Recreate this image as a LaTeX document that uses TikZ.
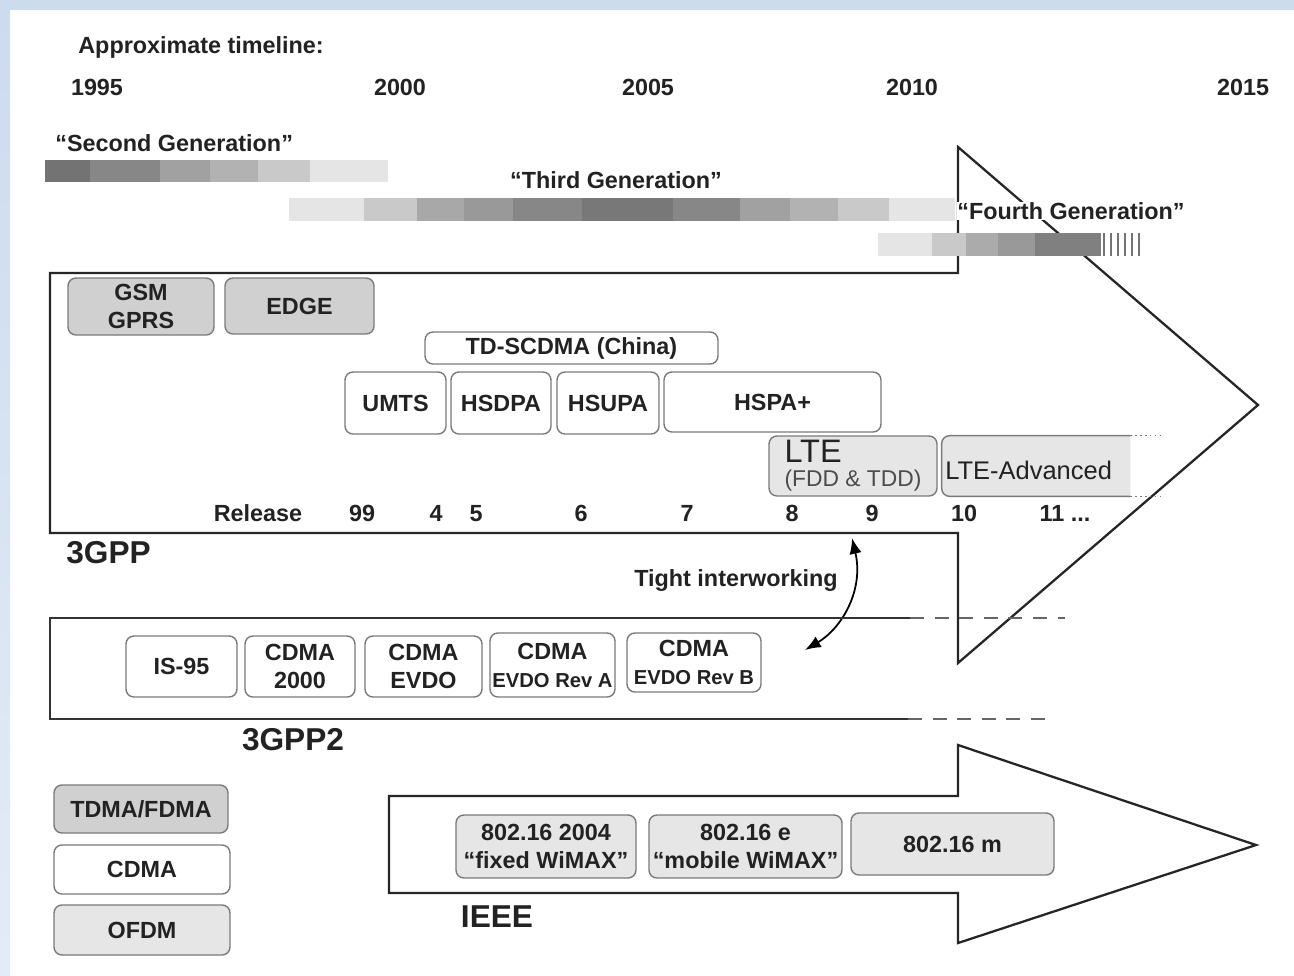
\documentclass[tikz,border=0pt]{standalone}
\usepackage{fontspec}
\setmainfont{Liberation Sans}
\usetikzlibrary{arrows.meta}

\definecolor{bgblue}{HTML}{CDDBEF}
\definecolor{boxline}{HTML}{7A7A7A}
\definecolor{darkfill}{HTML}{D0D0D0}
\definecolor{lightfill}{HTML}{E6E6E6}
\definecolor{txt}{HTML}{222222}

\newcommand{\subline}{\fontsize{11.5}{13}\selectfont}

\tikzset{
    tbox/.style={draw=boxline, line width=0.8pt, rounded corners=4.5pt,
                 align=center, inner sep=1pt, text=txt},
    boxsize/.style 2 args={minimum width=#1cm, minimum height=#2cm},
    lbl/.style={inner sep=0pt, text=txt},
    biglbl/.style={lbl, font=\bfseries\fontsize{18}{20}\selectfont},
    bigarrow/.style={draw=black!85, line width=1.3pt, fill=white, line join=miter},
}

\begin{document}
\begin{tikzpicture}[
        x=0.02cm, y=-0.02cm, >=latex,
        font=\bfseries\fontsize{13.3}{16}\selectfont,
    ]
    \useasboundingbox (0,0) rectangle (1294,975);
    \fill[white] (0,0) rectangle (1294,975);
    \fill[bgblue] (0,0) rectangle (1294,10);
    \shade[top color=bgblue, bottom color=bgblue!55] (0,0) rectangle (10,975);

    % timeline
    \node[lbl, anchor=west] (title) at (78,47) {Approximate timeline:};
    \node[lbl] (y1995) at (97,87) {1995};
    \node[lbl] (y2000) at (400,87) {2000};
    \node[lbl] (y2005) at (648,87) {2005};
    \node[lbl] (y2010) at (912,87) {2010};
    \node[lbl] (y2015) at (1243,87) {2015};

    % the two big arrows
    \draw[bigarrow] (50,273) -- (958,273) -- (958,147) -- (1258,405)
        -- (958,663) -- (958,533) -- (50,533) -- cycle;
    \draw[bigarrow] (389,796) -- (958,796) -- (958,745) -- (1256,845)
        -- (958,943) -- (958,893) -- (389,893) -- cycle;

    % generations
    \node[lbl, anchor=west] (gen2) at (55,143) {“Second Generation”};
    \foreach \a/\b/\g in {45/90/55, 90/160/47, 160/210/37, 210/258/30,
                          258/310/21, 310/388/10}
        \fill[black!\g] (\a,160) rectangle (\b,182);

    \node[lbl] (gen3) at (616,180) {“Third Generation”};
    \foreach \a/\b/\g in {289/364/10, 364/417/21, 417/464/34, 464/513/40,
                          513/582/47, 582/673/53, 673/740/47, 740/790/37,
                          790/838/30, 838/889/21, 889/955/10}
        \fill[black!\g] (\a,198) rectangle (\b,221);

    \node[lbl, anchor=west, fill=white] (gen4) at (957,211) {“Fourth Generation”};
    \foreach \a/\b/\g in {878/932/10, 932/966/21, 966/998/33, 998/1035/40,
                          1035/1101/50}
        \fill[black!\g] (\a,233) rectangle (\b,256);
    \foreach \s in {1104,1111,...,1141}
        \draw[black!55, line width=1.2pt] (\s,233) -- (\s,256);

    % 3GPP
    \node[tbox, fill=darkfill, boxsize={2.92}{1.14}] (gsm) at (141,306.5) {GSM\\GPRS};
    \node[tbox, fill=darkfill, boxsize={2.98}{1.12}] (edge) at (299.5,306) {EDGE};
    \node[tbox, boxsize={5.86}{0.64}] (tdscdma) at (571.5,348) {TD-SCDMA (China)};
    \node[tbox, boxsize={2.02}{1.24}] (umts) at (395.5,403) {UMTS};
    \node[tbox, boxsize={2.00}{1.24}] (hsdpa) at (501,403) {HSDPA};
    \node[tbox, boxsize={2.04}{1.24}] (hsupa) at (608,403) {HSUPA};
    \node[tbox, boxsize={4.34}{1.20}] (hspaplus) at (772.5,402) {HSPA+};
    \node[tbox, fill=lightfill, boxsize={3.36}{1.20}, align=left,
          font=\mdseries] (lte) at (853,466)
        {{\fontsize{18.5}{18}\selectfont LTE}\\[1.5pt]
         {\color{black!70}\fontsize{13}{14}\selectfont (FDD \& TDD)}};
    \node[lbl, boxsize={3.76}{1.20}] (lteadv) at (1036,466) {};
    \fill[lightfill] [rounded corners=4.5pt] (lteadv.north east) -| (lteadv.south west)
        [sharp corners] -- (lteadv.south east) -- cycle;
    \draw[boxline, line width=0.8pt] [rounded corners=4.5pt] (lteadv.north east)
        -| (lteadv.south west) -- (lteadv.south east);
    \draw[boxline, line width=0.8pt, dotted] (lteadv.north east) -- ++(30,0);
    \draw[boxline, line width=0.8pt, dotted] (lteadv.south east) -- ++(30,0);
    \node[lbl, anchor=west, font=\mdseries\fontsize{14.5}{16}\selectfont]
        (lteadvtext) at (945,470) {LTE-Advanced};

    \node[lbl, anchor=base] (release) at (258,521) {Release};
    \foreach \r/\x in {99/362, 4/436, 5/476, 6/581, 7/687, 8/792, 9/872, 10/964}
        \node[lbl, anchor=base] (rel\r) at (\x,521) {\r};
    \node[lbl, anchor=base] (rel11) at (1065,521) {11 ...};
    \node[biglbl, anchor=west] (tgpp) at (66,553) {3GPP};

    % tight interworking
    \node[lbl] (tight) at (736,580) {Tight interworking};
    \coordinate (tiup) at (852,538);
    \coordinate (tidown) at (805,650);
    \draw[{Latex[length=9pt,width=7pt]}-{Latex[length=9pt,width=7pt]}, line width=1pt]
        (tiup) .. controls (864,590) and (842,628) .. (tidown);

    % 3GPP2
    \draw[black!80, line width=1.1pt] (910,618) -- (50,618) -- (50,719) -- (908,719);
    \draw[black!60, line width=1.1pt, dash pattern=on 8pt off 6pt] (910,618) -- (1065,618);
    \draw[black!60, line width=1.1pt, dash pattern=on 8pt off 6pt] (908,719) -- (1055,719);
    \node[tbox, boxsize={2.22}{1.22}] (is95) at (181.5,666.5) {IS-95};
    \node[tbox, boxsize={2.20}{1.22}] (cdmatwok) at (300,666.5) {CDMA\\2000};
    \node[tbox, boxsize={2.34}{1.22}] (evdo) at (423.5,666.5) {CDMA\\EVDO};
    \node[tbox, boxsize={2.50}{1.28}] (evdoa) at (552.5,665) {CDMA\\{\subline EVDO Rev A}};
    \node[tbox, boxsize={2.68}{1.18}] (evdob) at (694,662.5) {CDMA\\{\subline EVDO Rev B}};
    \node[biglbl] (tgpptwo) at (293,740) {3GPP2};

    % legend
    \node[tbox, fill=darkfill, boxsize={3.48}{0.96}] (tdma) at (141,809) {TDMA/FDMA};
    \node[tbox, boxsize={3.52}{0.98}] (cdma) at (142,869.5) {CDMA};
    \node[tbox, fill=lightfill, boxsize={3.52}{1.00}] (ofdm) at (142,930) {OFDM};

    % IEEE
    \node[tbox, fill=lightfill, boxsize={3.60}{1.26}] (fixedwm) at (546,846.5)
        {802.16 2004\\“fixed WiMAX”};
    \node[tbox, fill=lightfill, boxsize={3.86}{1.26}] (mobilewm) at (745.5,846.5)
        {802.16 e\\“mobile WiMAX”};
    \node[tbox, fill=lightfill, boxsize={4.06}{1.24}] (wmm) at (952.5,844) {802.16 m};
    \node[biglbl] (ieee) at (497,917) {IEEE};

\end{tikzpicture}
\end{document}
